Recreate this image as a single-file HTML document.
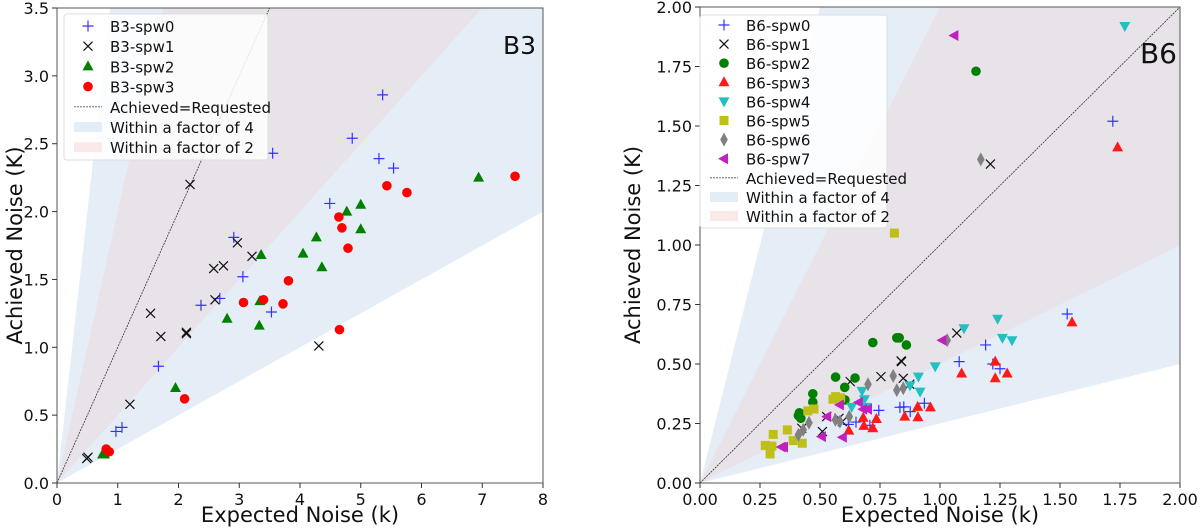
<!DOCTYPE html>
<html><head><meta charset="utf-8">
<style>
body{margin:0;background:#fff;}
svg{display:block;font-family:"DejaVu Sans","Liberation Sans",sans-serif;}
</style></head>
<body>
<svg id="chart" width="1200" height="531" viewBox="0 0 1200 531" xmlns="http://www.w3.org/2000/svg"></svg>
<script>
// ---- B3 data ----
const b3Spw0X=[5.36,4.86,3.55,5.30,5.54,4.49,2.91,3.06,2.68,2.37,3.53,1.67,0.97,1.07];
const b3Spw0Y=[2.86,2.54,2.43,2.39,2.32,2.06,1.81,1.52,1.36,1.31,1.26,0.86,0.38,0.41];
const b3Spw1X=[2.19,2.97,3.21,2.58,2.74,2.60,1.54,1.71,2.13,2.13,1.20,4.31,0.51,0.49];
const b3Spw1Y=[2.20,1.77,1.67,1.58,1.60,1.35,1.25,1.08,1.11,1.10,0.58,1.01,0.19,0.18];
const b3Spw2X=[6.94,4.77,5.00,5.00,4.27,4.05,4.36,3.36,3.34,3.33,2.80,1.95,0.75,0.78];
const b3Spw2Y=[2.25,2.00,2.05,1.87,1.81,1.69,1.59,1.68,1.34,1.16,1.21,0.70,0.21,0.21];
const b3Spw3X=[7.54,5.43,5.76,4.64,4.69,4.79,3.81,3.07,3.40,3.72,4.65,2.10,0.81,0.86];
const b3Spw3Y=[2.26,2.19,2.14,1.96,1.88,1.73,1.49,1.33,1.35,1.32,1.13,0.62,0.25,0.23];
const b3XTicks=[0,1,2,3,4,5,6,7,8];
const b3YTicks=[0.0,0.5,1.0,1.5,2.0,2.5,3.0,3.5];
// ---- B6 data ----
const b6Spw0X=[1.72,1.53,1.19,1.08,1.22,1.25,0.618,0.65,0.708,0.745,0.833,0.849,0.876,0.935];
const b6Spw0Y=[1.52,0.71,0.58,0.51,0.50,0.48,0.246,0.256,0.242,0.305,0.318,0.32,0.30,0.335];
const b6Spw1X=[1.21,1.07,0.84,0.626,0.754,0.847,0.874,0.838,0.579,0.528,0.424,0.51,0.593];
const b6Spw1Y=[1.34,0.63,0.51,0.426,0.447,0.44,0.415,0.513,0.272,0.279,0.23,0.216,0.258];
const b6Spw2X=[1.15,0.72,0.82,0.83,0.86,0.565,0.646,0.603,0.604,0.47,0.47,0.414,0.42,0.41];
const b6Spw2Y=[1.73,0.59,0.61,0.61,0.58,0.445,0.441,0.402,0.349,0.375,0.34,0.295,0.272,0.283];
const b6Spw3X=[1.74,1.55,1.09,1.23,1.28,1.23,0.68,0.735,0.683,0.72,0.62,0.853,0.907,0.908,0.96];
const b6Spw3Y=[1.41,0.675,0.46,0.51,0.46,0.44,0.274,0.269,0.24,0.23,0.22,0.279,0.32,0.276,0.318];
const b6Spw4X=[1.77,1.24,1.26,1.30,1.10,0.98,0.675,0.685,0.632,0.695,0.91,0.917,0.875];
const b6Spw4Y=[1.92,0.69,0.61,0.60,0.65,0.49,0.387,0.352,0.32,0.32,0.447,0.384,0.41];
const b6Spw5X=[0.81,0.554,0.565,0.586,0.475,0.449,0.364,0.305,0.272,0.30,0.292,0.388,0.426];
const b6Spw5Y=[1.05,0.352,0.363,0.358,0.311,0.303,0.223,0.204,0.158,0.155,0.122,0.178,0.167];
const b6Spw6X=[1.17,1.03,0.70,0.805,0.82,0.847,0.622,0.564,0.583,0.454,0.43,0.41];
const b6Spw6Y=[1.36,0.60,0.415,0.45,0.39,0.398,0.279,0.265,0.258,0.253,0.223,0.202];
const b6Spw7X=[1.06,1.01,0.583,0.662,0.68,0.70,0.53,0.508,0.595,0.35,0.34];
const b6Spw7Y=[1.88,0.60,0.328,0.339,0.31,0.31,0.279,0.195,0.192,0.151,0.151];
const b6XTicks=[0,0.25,0.5,0.75,1.0,1.25,1.5,1.75,2.0];
const b6YTicks=[0,0.25,0.5,0.75,1.0,1.25,1.5,1.75,2.0];

const NS='http://www.w3.org/2000/svg';
const svg=document.getElementById('chart');
function mk(tag,attrs,parent){const e=document.createElementNS(NS,tag);for(const k in attrs)e.setAttribute(k,attrs[k]);(parent||svg).appendChild(e);return e;}

function marker(g,type,cx,cy,color){
  let e;const s=5.5;
  if(type==='plus'){e=mk('path',{d:`M${cx-s} ${cy}H${cx+s}M${cx} ${cy-s}V${cy+s}`,stroke:color,'stroke-width':1.2,fill:'none'},g);}
  else if(type==='x'){const t=4.5;e=mk('path',{d:`M${cx-t} ${cy-t}L${cx+t} ${cy+t}M${cx-t} ${cy+t}L${cx+t} ${cy-t}`,stroke:color,'stroke-width':1.2,fill:'none'},g);}
  else if(type==='circle'){e=mk('circle',{cx:cx,cy:cy,r:4.8,fill:color},g);}
  else if(type==='tri'){e=mk('polygon',{points:`${cx},${cy-6} ${cx-5.5},${cy+4} ${cx+5.5},${cy+4}`,fill:color},g);}
  else if(type==='tridown'){e=mk('polygon',{points:`${cx},${cy+6} ${cx-5.5},${cy-4} ${cx+5.5},${cy-4}`,fill:color},g);}
  else if(type==='square'){e=mk('rect',{x:cx-4.5,y:cy-4.5,width:9,height:9,fill:color},g);}
  else if(type==='diamond'){e=mk('polygon',{points:`${cx},${cy-7} ${cx-3.8},${cy} ${cx},${cy+7} ${cx+3.8},${cy}`,fill:color},g);}
  else if(type==='trileft'){e=mk('polygon',{points:`${cx-6},${cy} ${cx+4},${cy-5.5} ${cx+4},${cy+5.5}`,fill:color},g);}
  return e;
}

function panel(cfg){
  const {id,L,R,T,B,xmax,ymax,xTicks,yTicks,xFmt,yFmt,series,label,labelX,labelY,labelSize,ylabX,legend}=cfg;
  const sx=v=>L+(R-L)*v/xmax, sy=v=>B-(B-T)*v/ymax;
  const g=mk('g',{});
  
  
  const clip=mk('clipPath',{id:id+'clip'},g);mk('rect',{x:L,y:T,width:R-L,height:B-T},clip);
  const sh=mk('g',{'clip-path':`url(#${id}clip)`},g);
  const big=xmax*10;
  const f4=mk('polygon',{points:`${sx(0)},${sy(0)} ${sx(big)},${sy(big*4)} ${sx(big)},${sy(big/4)}`,fill:'#e5eef6'},sh);
  
  
  const f2=mk('polygon',{points:`${sx(0)},${sy(0)} ${sx(big)},${sy(big*2)} ${sx(big)},${sy(big/2)}`,fill:'#e8e2e9'},sh);
  
  
  const one=mk('line',{x1:sx(0),y1:sy(0),x2:sx(big),y2:sy(big),stroke:'#333','stroke-width':0.8,'stroke-dasharray':'2,1'},sh);
  
  
  const pg=mk('g',{'clip-path':`url(#${id}clip)`},g);
  series.forEach(s=>{
    const sg=mk('g',{},pg);
    
    
    s.x.forEach((xv,i)=>{const m=marker(sg,s.type,sx(xv),sy(s.y[i]),s.color);
      
      });
  });
  const fr=mk('rect',{x:L,y:T,width:R-L,height:B-T,fill:'none',stroke:'#555','stroke-width':1},g);
  
  
  xTicks.forEach(t=>{const x=sx(t);mk('line',{x1:x,y1:B,x2:x,y2:B+5,stroke:'#333'},g);
    const tx=mk('text',{x:x,y:B+22,'font-size':16,'text-anchor':'middle',fill:'#111'},g);tx.textContent=xFmt(t);
    
    });
  yTicks.forEach(t=>{const y=sy(t);mk('line',{x1:L-5,y1:y,x2:L,y2:y,stroke:'#333'},g);
    const tx=mk('text',{x:L-8,y:y+6,'font-size':16,'text-anchor':'end',fill:'#111'},g);tx.textContent=yFmt(t);
    
    });
  const xt=mk('text',{x:(L+R)/2,y:522,'font-size':21,'text-anchor':'middle',fill:'#111'},g);xt.textContent='Expected Noise (k)';
  
  
  const yt=mk('text',{x:0,y:0,'font-size':21,'text-anchor':'middle',fill:'#111',transform:`translate(${ylabX},${(T+B)/2}) rotate(-90)`},g);yt.textContent='Achieved Noise  (K)';
  
  
  const bl=mk('text',{x:labelX,y:labelY,'font-size':labelSize,'text-anchor':'end',fill:'#111'},g);bl.textContent=label;
  
  
  const lg=mk('g',{},g);
  
  
  mk('rect',{x:legend.x,y:legend.y,width:legend.w,height:legend.h,rx:3,fill:'#fff','fill-opacity':0.85,stroke:'#ddd'},lg);
  const entries=series.map(s=>({kind:'m',s:s,text:s.name})).concat([{kind:'line',text:'Achieved=Requested'},{kind:'f4',text:'Within a factor of 4'},{kind:'f2',text:'Within a factor of 2'}]);
  entries.forEach((e,i)=>{
    const y=legend.y0+i*legend.dy, mx=legend.x+24;
    const eg=mk('g',{},lg);
    
    
    if(e.kind==='m')marker(eg,e.s.type,mx,y,e.s.color);
    else if(e.kind==='line')mk('line',{x1:mx-14,y1:y,x2:mx+14,y2:y,stroke:'#555','stroke-width':0.8,'stroke-dasharray':'2,1'},eg);
    else mk('rect',{x:mx-14,y:y-5,width:28,height:10,fill:e.kind==='f4'?'#e3edf5':'#fbe9ea'},eg);
    const t=mk('text',{x:legend.x+46,y:y+6,'font-size':15,fill:'#111'},eg);t.textContent=e.text;
  });
}

panel({id:'b3',L:57,R:543,T:8,B:483,xmax:8,ymax:3.5,xTicks:b3XTicks,yTicks:b3YTicks,xFmt:t=>String(t),yFmt:t=>t.toFixed(1),
  label:'B3',labelX:536,labelY:54,labelSize:25,ylabX:22,
  legend:{x:64,y:14,w:204,h:146,y0:26,dy:20.2},
  series:[
    {name:'B3-spw0',type:'plus',color:'#3333ff',x:b3Spw0X,y:b3Spw0Y},
    {name:'B3-spw1',type:'x',color:'#111',x:b3Spw1X,y:b3Spw1Y},
    {name:'B3-spw2',type:'tri',color:'#008000',x:b3Spw2X,y:b3Spw2Y},
    {name:'B3-spw3',type:'circle',color:'#ff0000',x:b3Spw3X,y:b3Spw3Y}]});

panel({id:'b6',L:700,R:1180,T:7,B:483,xmax:2,ymax:2,xTicks:b6XTicks,yTicks:b6YTicks,xFmt:t=>t.toFixed(2),yFmt:t=>t.toFixed(2),
  label:'B6',labelX:1177,labelY:63,labelSize:28,ylabX:640,
  legend:{x:700,y:15,w:187,h:213,y0:25,dy:19.1},
  series:[
    {name:'B6-spw0',type:'plus',color:'#3333ff',x:b6Spw0X,y:b6Spw0Y},
    {name:'B6-spw1',type:'x',color:'#111',x:b6Spw1X,y:b6Spw1Y},
    {name:'B6-spw2',type:'circle',color:'#008000',x:b6Spw2X,y:b6Spw2Y},
    {name:'B6-spw3',type:'tri',color:'#ff1a1a',x:b6Spw3X,y:b6Spw3Y},
    {name:'B6-spw4',type:'tridown',color:'#22c0c0',x:b6Spw4X,y:b6Spw4Y},
    {name:'B6-spw5',type:'square',color:'#bfbf1a',x:b6Spw5X,y:b6Spw5Y},
    {name:'B6-spw6',type:'diamond',color:'#808080',x:b6Spw6X,y:b6Spw6Y},
    {name:'B6-spw7',type:'trileft',color:'#c020c0',x:b6Spw7X,y:b6Spw7Y}]});
</script>
</body></html>
